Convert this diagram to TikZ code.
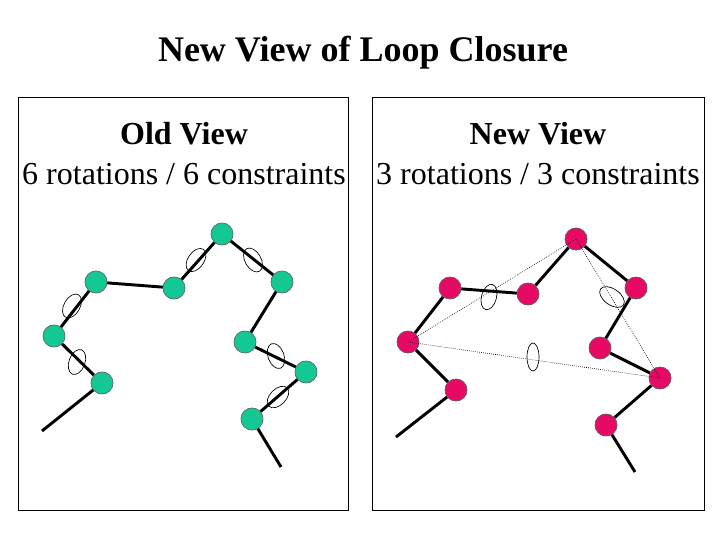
\documentclass[tikz,border=0pt]{standalone}
\usepackage{fontspec}
\setmainfont{Liberation Serif}
\definecolor{tealg}{RGB}{20,200,150}
\definecolor{rose}{RGB}{230,10,100}
\begin{document}
\begin{tikzpicture}[x=0.75pt,y=-0.75pt,
  gn/.style={circle,draw=black!60,fill=tealg,minimum size=16.5pt,inner sep=0pt},
  rn/.style={circle,draw=black!60,fill=rose,minimum size=16.5pt,inner sep=0pt},
  lk/.style={line width=2.2pt},
  dl/.style={densely dotted,line width=0.5pt},
  el/.style={draw,line width=0.5pt},
  panel/.style={draw,line width=0.6pt}]
\useasboundingbox (0,0) rectangle (720,540);
\node[font=\fontsize{27}{30}\selectfont\bfseries] (title) at (363,53) {New View of Loop Closure};
\node[panel,minimum width=247.5pt,minimum height=309.75pt,anchor=north west,inner sep=0pt] (p1) at (18,97) {};
\node[panel,minimum width=249pt,minimum height=309.75pt,anchor=north west,inner sep=0pt] (p2) at (372,97) {};
\node[font=\fontsize{24}{30}\selectfont,align=center] (t1) at (184,154) {\textbf{Old View}\\6 rotations / 6 constraints};
\node[font=\fontsize{24}{30}\selectfont,align=center] (t2) at (538,154) {\textbf{New View}\\3 rotations / 3 constraints};
% left chain
\coordinate (la) at (42,431); \coordinate (lk) at (281,467);
\node[gn] (lb) at (102,383) {}; \node[gn] (lc) at (54,336) {};
\node[gn] (ld) at (96,282) {}; \node[gn] (le) at (174,288) {};
\node[gn] (lf) at (222,234) {}; \node[gn] (lg) at (282,282) {};
\node[gn] (lh) at (245,342) {}; \node[gn] (li) at (306,372) {};
\node[gn] (lj) at (252,419) {};
\draw[lk] (la)--(lb) (lb)--(lc) (lc)--(ld) (ld)--(le) (le)--(lf) (lf)--(lg) (lg)--(lh) (lh)--(li) (li)--(lj) (lj)--(lk);
\foreach \n in {lb,lc,ld,le,lf,lg,lh,li,lj} \node[gn] at (\n) {};
\draw[el,rotate around={-30:(72,306)}] (72,306) ellipse (8 and 13);
\draw[el,rotate around={-20:(77,362)}] (77,362) ellipse (8 and 13);
\draw[el,rotate around={-35:(196,260)}] (196,260) ellipse (8 and 13);
\draw[el,rotate around={30:(253,260)}] (253,260) ellipse (8 and 13);
\draw[el,rotate around={20:(276,356)}] (276,356) ellipse (8 and 13);
\draw[el,rotate around={-45:(278,397)}] (278,397) ellipse (8 and 13);
% right chain
\coordinate (ra) at (396,437); \coordinate (rk) at (635,472);
\node[rn] (rb) at (456,390) {}; \node[rn] (rc) at (408,342) {};
\node[rn] (rd) at (450,288) {}; \node[rn] (re) at (528,294) {};
\node[rn] (rf) at (576,239) {}; \node[rn] (rg) at (636,288) {};
\node[rn] (rh) at (600,348) {}; \node[rn] (ri) at (660,378) {};
\node[rn] (rj) at (606,425) {};
\draw[lk] (ra)--(rb) (rb)--(rc) (rc)--(rd) (rd)--(re) (re)--(rf) (rf)--(rg) (rg)--(rh) (rh)--(ri) (ri)--(rj) (rj)--(rk);
\foreach \n in {rb,rc,rd,re,rf,rg,rh,ri,rj} \node[rn] at (\n) {};
\draw[dl] (rc.center)--(rf.center) (rc.center)--(ri.center) (rf.center)--(ri.center);
\draw[el,rotate around={-15:(489,297)}] (489,297) ellipse (7.5 and 13);
\draw[el] (533,357) ellipse (6 and 14);
\draw[el,rotate around={55:(612,297)}] (612,297) ellipse (8 and 14);
\end{tikzpicture}
\end{document}
